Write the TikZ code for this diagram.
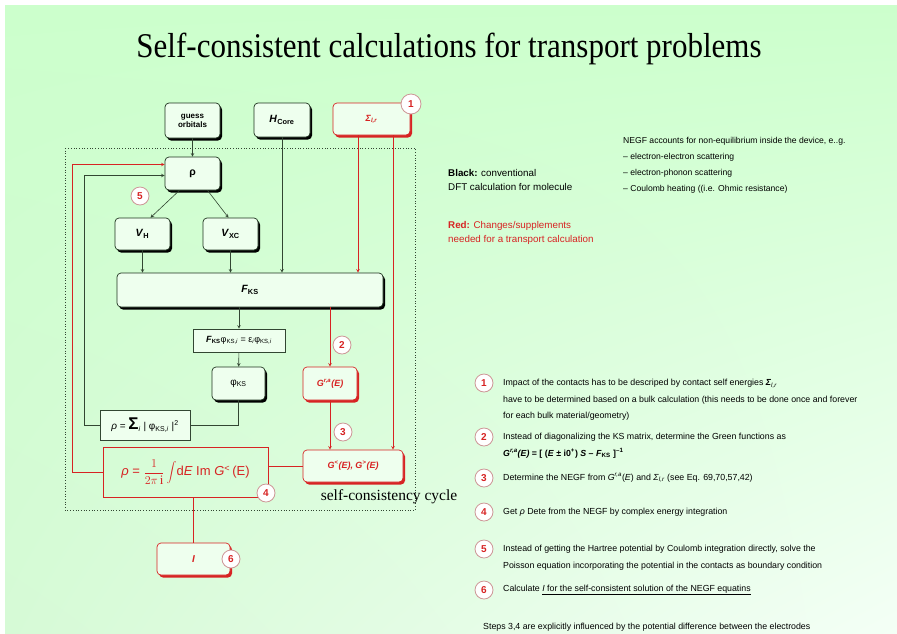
\documentclass[tikz,border=0pt]{standalone}
\usepackage{fontspec}
\setmainfont{Liberation Serif}
\setsansfont{Liberation Sans}
\usetikzlibrary{positioning, arrows.meta, calc, shadows, shadings}

\definecolor{bgtop}{RGB}{204,255,204}
\definecolor{bgbl}{RGB}{214,250,214}
\definecolor{bgbr}{RGB}{244,255,246}
\definecolor{boxfill}{RGB}{238,255,238}
\definecolor{boxline}{RGB}{30,50,30}
\definecolor{linegray}{RGB}{50,70,50}
\definecolor{myred}{RGB}{215,35,35}
\definecolor{circline}{RGB}{205,150,150}

\newcommand{\bi}[1]{\textbf{\textit{#1}}}
\newcommand{\bsub}[2]{\bi{#1}\textsubscript{\textbf{#2}}}

\tikzset{
  blkbox/.style={draw=boxline, fill=boxfill, rounded corners=4pt, line width=0.7pt,
    font=\sffamily\bfseries\fontsize{10.5}{11}\selectfont, align=center, inner sep=1pt,
    drop shadow={shadow xshift=2pt, shadow yshift=-2.5pt, fill=black, opacity=1}},
  redbox/.style={draw=myred, fill=boxfill, rounded corners=4pt, line width=0.7pt, text=myred,
    font=\sffamily\bfseries\fontsize{9}{10}\selectfont, align=center, inner sep=1pt,
    drop shadow={shadow xshift=2pt, shadow yshift=-2.5pt, fill=myred, opacity=1}},
  plainbox/.style={draw=linegray, fill=boxfill, line width=0.6pt, inner sep=2pt,
    font=\sffamily\fontsize{9}{10}\selectfont},
  numc/.style={circle, draw=circline, fill=white, text=myred, line width=0.8pt,
    font=\sffamily\bfseries\fontsize{10}{10}\selectfont, inner sep=0pt, minimum size=18pt},
  conn/.style={draw=linegray, line width=0.6pt, ->, >=stealth},
  rconn/.style={draw=myred, line width=0.6pt, ->, >=stealth},
  note/.style={anchor=west, inner sep=0pt, align=left, font=\sffamily\fontsize{8.8}{16.5}\selectfont},
}

\begin{document}
\begin{tikzpicture}[x=1pt, y=-1pt]
    % background
    \fill[white] (0,0) rectangle (897,633);
    \useasboundingbox (0,0) rectangle (897,633);
    \shade[upper left=bgtop, upper right=bgtop, lower left=bgbl, lower right=bgbr] (5,5) rectangle (897,633);

    % title
    \node[font=\fontsize{31}{32}\selectfont] (title) at (449,49) {\scalebox{1}[1.12]{Self-consistent calculations for transport problems}};

    % inputs
    \node[blkbox, minimum width=55pt, minimum height=35pt, font=\sffamily\bfseries\fontsize{8}{9}\selectfont] (guess) at (192.5,120.5) {guess\\orbitals};
    \node[blkbox, minimum width=56pt, minimum height=34pt] (hcore) at (282,120) {\bsub{H}{Core}};
    \node[redbox, minimum width=77pt, minimum height=32pt] (sigma) at (371.5,119) {\textit{Σ}\textsubscript{\textit{l,r}}};
    \node[numc, minimum size=20pt] (n1) at (411,104) {1};

    % self-consistency cycle
    \draw[dotted, linegray, line width=0.7pt] (65,148) rectangle (415,510);
    \node[blkbox, minimum width=55pt, minimum height=33pt] (rho) at (192.5,173.5) {ρ};
    \node[numc] (n5) at (140,196) {5};
    \node[blkbox, minimum width=55pt, minimum height=32pt] (vh) at (142.5,234) {\bsub{V}{H}};
    \node[blkbox, minimum width=55pt, minimum height=32pt] (vxc) at (230.5,234) {\bsub{V}{XC}};
    \node[blkbox, minimum width=266pt, minimum height=34pt] (fks) at (250,290) {\bsub{F}{KS}};
    \node[plainbox, minimum width=92pt, minimum height=23pt] (eig) at (239,340.5)
        {\bsub{F}{KS}φ\textsubscript{KS,\textit{i}} = ε\textsubscript{\textit{i}}φ\textsubscript{KS,\textit{i}}};
    \node[numc] (n2) at (342,345) {2};
    \node[blkbox, minimum width=53pt, minimum height=33pt, font=\sffamily\fontsize{10}{11}\selectfont] (phi) at (238.5,383.5) {φ\textsubscript{KS}};
    \node[redbox, minimum width=54pt, minimum height=33pt] (gra) at (330,383.5) {\bi{G}\textsuperscript{\textit{r,a}}\bi{(E)}};
    \node[plainbox, minimum width=90pt, minimum height=30pt, font=\sffamily\fontsize{10}{11}\selectfont] (rhosum) at (145,425)
        {\textit{ρ} = {\fontsize{17}{17}\selectfont\textbf{Σ}}\textsubscript{\textit{i}} | φ\textsubscript{KS,\textit{i}} |\textsuperscript{2}};
    \node[numc] (n3) at (343,432) {3};
    \node[draw=myred, line width=0.6pt, minimum width=165pt, minimum height=50pt, text=myred,
        font=\sffamily\fontsize{13}{14}\selectfont] (integ) at (185.5,472)
        {\textit{ρ} = $\displaystyle\frac{1}{2\pi\,\mathrm{i}}\int$d\textit{E} Im \textit{G}\textsuperscript{<}\,(E)};
    \node[numc] (n4) at (266,493) {4};
    \node[redbox, minimum width=100pt, minimum height=32pt] (gles) at (353,466) {\bi{G}\textsuperscript{<}\bi{(E), G}\textsuperscript{>}\bi{(E)}};
    \node[font=\fontsize{15.5}{16}\selectfont] (cyc) at (389,497) {self-consistency cycle};

    % output
    \node[redbox, minimum width=73pt, minimum height=32pt, font=\sffamily\fontsize{10}{11}\selectfont] (ibox) at (193.5,559) {\bi{I}};
    \node[numc] (n6) at (231,559) {6};

    % connectors (black)
    \coordinate (sigL) at ([xshift=-13.5pt]sigma.south);
    \coordinate (sigR) at ([xshift=21.5pt]sigma.south);
    \draw[conn] (guess) -- (rho);
    \draw[conn] (hcore.south) -- (hcore.south |- fks.north);
    \draw[conn] ([xshift=-13pt]rho.south) -- ([xshift=8pt]vh.north);
    \draw[conn] ([xshift=15pt]rho.south) -- ([xshift=-2pt]vxc.north);
    \draw[conn] (vh.south) -- (vh.south |- fks.north);
    \draw[conn] (vxc.south) -- (vxc.south |- fks.north);
    \draw[conn] (fks.south -| eig.north) -- (eig.north);
    \draw[conn] (eig) -- (phi);
    \draw[draw=linegray, line width=0.6pt] (phi.south) |- (rhosum.east);
    \draw[conn] (rhosum.west) -- ++(-15,0) |- ([yshift=-2pt]rho.west);

    % connectors (red)
    \draw[rconn] (sigL) -- (sigL |- fks.north);
    \draw[rconn] (sigR) -- (sigR |- gles.north);
    \draw[rconn] (fks.south -| gra.north) -- (gra.north);
    \draw[rconn] (gra.south) -- (gra.south |- gles.north);
    \draw[draw=myred, line width=0.6pt] (gles.west) -- (gles.west -| integ.east);
    \draw[rconn] (integ.west) -- ++(-30,0) |- ([yshift=9pt]rho.west);
    \draw[draw=myred, line width=0.6pt] (ibox.north |- integ.south) -- (ibox.north);

    % legend
    \node[note, font=\sffamily\fontsize{9.8}{14.5}\selectfont] (blk) at (448,180) {\textbf{Black:} conventional\\DFT calculation for molecule};
    \node[note, font=\sffamily\fontsize{9.8}{14.5}\selectfont, text=myred] (rdl) at (448,233) {\textbf{Red:} Changes/supplements\\needed for a transport calculation};
    \node[note, font=\sffamily\fontsize{8.6}{16}\selectfont] (negf) at (623,165)
        {NEGF accounts for non-equilibrium inside the device, e..g.\\
         -- electron-electron scattering\\
         -- electron-phonon scattering\\
         -- Coulomb heating ((i.e. Ohmic resistance)};

    % numbered remarks
    \node[numc] (l1) at (484,383) {1};
    \node[note] (t1) at (503,400)
        {Impact of the contacts has to be descriped by contact self energies \bi{Σ}\textsubscript{\textit{l,r}}\\
         have to be determined based on a bulk calculation (this needs to be done once and forever\\
         for each bulk material/geometry)};
    \node[numc] (l2) at (484,437) {2};
    \node[note] (t2) at (503,445.5)
        {Instead of diagonalizing the KS matrix, determine the Green functions as\\
         \bi{G}\textsuperscript{\textbf{\textit{r,a}}}\bi{(E)} \textbf{= [ (}\bi{E} \textbf{± i0}\textsuperscript{\textbf{+}}\textbf{)} \bi{S} \textbf{--} \bsub{F}{KS} \textbf{]}\textsuperscript{\textbf{--1}}};
    \node[numc] (l3) at (484,478) {3};
    \node[note] (t3) at (503,478) {Determine the NEGF from \textit{G}\textsuperscript{\textit{r,a}}(\textit{E}) and \textit{Σ}\textsubscript{\textit{l,r}} (see Eq. 69,70,57,42)};
    \node[numc] (l4) at (484,512) {4};
    \node[note] (t4) at (503,512) {Get \textit{ρ} Dete from the NEGF by complex energy integration};
    \node[numc] (l5) at (484,549) {5};
    \node[note] (t5) at (503,557.5)
        {Instead of getting the Hartree potential by Coulomb integration directly, solve the\\
         Poisson equation incorporating the potential in the contacts as boundary condition};
    \node[numc] (l6) at (484,590) {6};
    \node[note] (t6) at (503,590) {Calculate \underline{\textit{I} for the self-consistent solution of the NEGF equatins}};
    \node[note] (steps) at (483,627) {Steps 3,4 are explicitly influenced by the potential difference between the electrodes};
\end{tikzpicture}
\end{document}
